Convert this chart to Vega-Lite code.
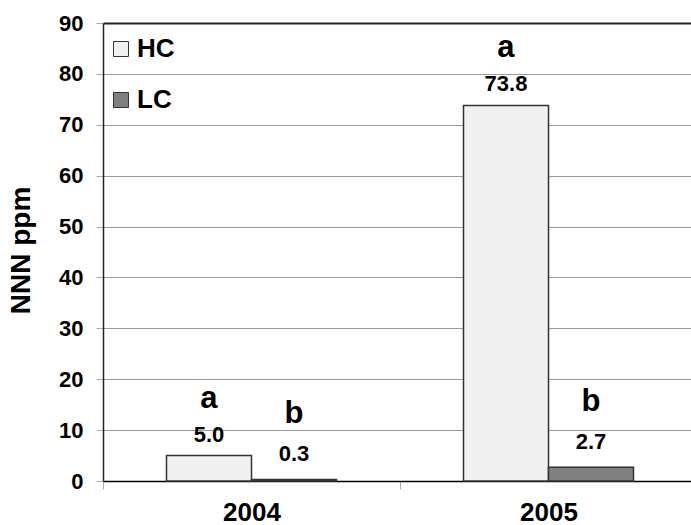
{
  "$schema": "https://vega.github.io/schema/vega-lite/v6.json",
  "width": 588,
  "height": 458,
  "autosize": {"type": "none"},
  "padding": {"left": 103, "top": 23, "right": 0, "bottom": 44},
  "config": {"view": {"stroke": null}, "font": "Liberation Sans"},
  "data": {
    "values": [
      {"year": "2004", "group": "HC", "value": 5.0, "letter": "a"},
      {"year": "2004", "group": "LC", "value": 0.3, "letter": "b"},
      {"year": "2005", "group": "HC", "value": 73.8, "letter": "a"},
      {"year": "2005", "group": "LC", "value": 2.7, "letter": "b"}
    ]
  },
  "encoding": {
    "x": {
      "field": "year",
      "type": "nominal",
      "scale": {"range": [0, 594], "paddingInner": 0, "paddingOuter": 0},
      "axis": {
        "title": null,
        "labelAngle": 0,
        "labelFontSize": 26,
        "labelFontWeight": "bold",
        "labelColor": "#000",
        "domainColor": "#000",
        "domainWidth": 1.5,
        "tickBand": "extent",
        "tickColor": "#aaa",
        "tickSize": 8,
        "labelPadding": 10,
        "grid": false
      }
    },
    "xOffset": {
      "field": "group",
      "type": "nominal",
      "scale": {"paddingInner": 0, "paddingOuter": 0.747}
    },
    "y": {
      "field": "value",
      "type": "quantitative",
      "scale": {"domain": [0, 90], "nice": false},
      "axis": {
        "title": "NNN ppm",
        "values": [0, 10, 20, 30, 40, 50, 60, 70, 80, 90],
        "grid": true,
        "gridColor": {"condition": {"test": "datum.value === 90", "value": "#222"}, "value": "#999"},
        "gridWidth": {"condition": {"test": "datum.value === 90", "value": 2}, "value": 1},
        "domainColor": "#222",
        "domainWidth": 1.5,
        "tickColor": "#aaa",
        "tickSize": 7,
        "labelPadding": 13,
        "labelFontSize": 22,
        "labelFontWeight": "bold",
        "labelColor": "#000",
        "titleFontSize": 28,
        "titleFontWeight": "bold",
        "titleColor": "#000",
        "titleX": -81.5,
        "titleY": 227,
        "titleAngle": -90,
        "titleAlign": "center",
        "titleBaseline": "middle"
      }
    }
  },
  "layer": [
    {
      "mark": {"type": "bar", "stroke": "#333", "strokeWidth": 1.5},
      "encoding": {
        "color": {
          "field": "group",
          "type": "nominal",
          "scale": {"domain": ["HC", "LC"], "range": ["#f0f0f0", "#808080"]},
          "legend": {
            "title": null,
            "orient": "none",
            "legendX": 5,
            "legendY": 13,
            "padding": 0,
            "symbolType": "square",
            "symbolSize": 225,
            "symbolStrokeColor": "#333",
            "symbolStrokeWidth": 1,
            "symbolOpacity": 1,
            "labelFontSize": 26,
            "labelFontWeight": "bold",
            "labelColor": "#000",
            "labelOffset": 3,
            "rowPadding": 25
          }
        }
      }
    },
    {
      "transform": [{"filter": "datum.group === 'HC'"}],
      "mark": {"type": "text", "fontSize": 22, "fontWeight": "bold", "baseline": "alphabetic", "dy": -14, "color": "#000"},
      "encoding": {"text": {"field": "value", "type": "quantitative", "format": ".1f"}}
    },
    {
      "transform": [{"filter": "datum.group === 'LC'"}],
      "mark": {"type": "text", "fontSize": 22, "fontWeight": "bold", "baseline": "alphabetic", "dy": -18, "color": "#000"},
      "encoding": {"text": {"field": "value", "type": "quantitative", "format": ".1f"}}
    },
    {
      "transform": [{"filter": "datum.group === 'HC'"}],
      "mark": {"type": "text", "fontSize": 31, "fontWeight": "bold", "baseline": "alphabetic", "dy": -48, "color": "#000"},
      "encoding": {"text": {"field": "letter", "type": "nominal"}}
    },
    {
      "transform": [{"filter": "datum.group === 'LC'"}],
      "mark": {"type": "text", "fontSize": 31, "fontWeight": "bold", "baseline": "alphabetic", "dy": -56, "color": "#000"},
      "encoding": {"text": {"field": "letter", "type": "nominal"}}
    }
  ]
}
